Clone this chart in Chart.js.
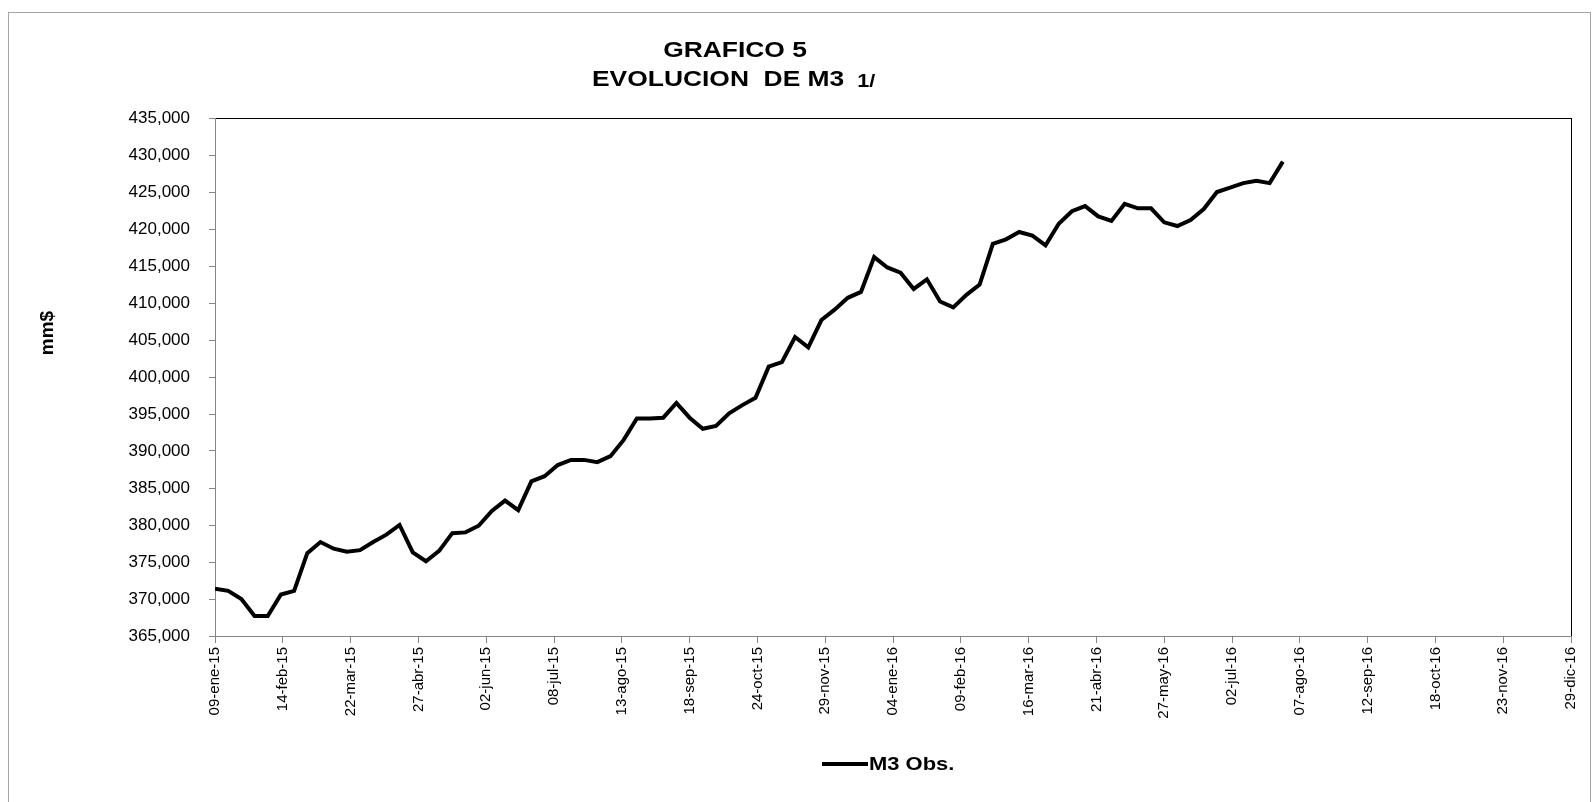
<!DOCTYPE html>
<html>
<head>
<meta charset="utf-8">
<script src="https://cdn.jsdelivr.net/npm/chart.js@4.4.1/dist/chart.umd.min.js"></script>
<style>
  body { margin: 0; background: #fff; }
  canvas { display: block; }
</style>
</head>
<body>
<canvas id="grafico" width="1593" height="802"></canvas>
<script>
// Data
const inicio = '09-ene-15';   // first weekly observation, x = 0 days
const diasPorSemana = 7;
const m3Obs = [
  371400, 371100, 370000, 367700, 367700, 370600, 371100, 376200, 377700, 376800,
  376400, 376600, 377700, 378700, 380000, 376300, 375100, 376500, 378900, 379000,
  379900, 381900, 383300, 382000, 385900, 386600, 388100, 388800, 388800, 388500,
  389300, 391500, 394400, 394400, 394500, 396500, 394500, 393000, 393400, 395100,
  396200, 397200, 401400, 402000, 405400, 404000, 407700, 409100, 410700, 411500,
  416200, 414800, 414100, 411900, 413200, 410200, 409400, 411100, 412500, 418000,
  418600, 419600, 419100, 417800, 420700, 422400, 423100, 421700, 421100, 423400,
  422800, 422800, 420900, 420400, 421200, 422700, 425000, 425600, 426200, 426500,
  426200, 429100
];
const tickLabels = [
  '09-ene-15', '14-feb-15', '22-mar-15', '27-abr-15', '02-jun-15', '08-jul-15',
  '13-ago-15', '18-sep-15', '24-oct-15', '29-nov-15', '04-ene-16', '09-feb-16',
  '16-mar-16', '21-abr-16', '27-may-16', '02-jul-16', '07-ago-16', '12-sep-16',
  '18-oct-16', '23-nov-16', '29-dic-16'
];
const pasoDias = 36;
const yMin = 365000, yMax = 435000, yPaso = 5000;

const puntos = m3Obs.map((v, i) => ({ x: i * diasPorSemana, y: v }));

const FONT = '"Liberation Sans", Arial, sans-serif';
const GRIS = '#868686';

// draws text a bit wider, like the original picture
function texto(ctx, t, x, y, font, align, estira) {
  ctx.save();
  ctx.font = font;
  ctx.fillStyle = '#000';
  ctx.textBaseline = 'middle';
  const w = ctx.measureText(t).width * estira;
  let x0 = x;
  if (align === 'center') x0 = x - w / 2;
  if (align === 'right') x0 = x - w;
  ctx.translate(x0, y);
  ctx.scale(estira, 1);
  ctx.textAlign = 'left';
  ctx.fillText(t, 0, 0);
  ctx.restore();
  return w;
}

const extras = {
  id: 'extras',
  beforeDraw(chart) {
    const ctx = chart.ctx, a = chart.chartArea;
    ctx.save();
    ctx.fillStyle = '#fff';
    ctx.fillRect(0, 0, chart.width, chart.height);
    // outer frame
    ctx.strokeStyle = '#a6a6a6';
    ctx.lineWidth = 1;
    ctx.strokeRect(8.5, 12.5, 1582, 790);
    // plot area border
    ctx.strokeStyle = '#000';
    ctx.strokeRect(Math.round(a.left) + 0.5, Math.round(a.top) + 0.5,
      Math.round(a.right - a.left), Math.round(a.bottom - a.top));
    ctx.restore();
  },
  afterDraw(chart) {
    const ctx = chart.ctx;
    // title
    texto(ctx, 'GRAFICO 5', 735, 51, 'bold 22px ' + FONT, 'center', 1.2);
    const w = texto(ctx, 'EVOLUCION  DE M3', 592, 80, 'bold 22px ' + FONT, 'left', 1.2);
    texto(ctx, '1/', 592 + w + 13, 82, 'bold 18px ' + FONT, 'left', 1.2);
    // y axis title
    ctx.save();
    ctx.translate(48, 333);
    ctx.rotate(-Math.PI / 2);
    ctx.font = 'bold 19px ' + FONT;
    ctx.fillStyle = '#000';
    ctx.textAlign = 'center';
    ctx.textBaseline = 'middle';
    ctx.fillText('mm$', 0, 0);
    ctx.restore();
    // legend
    ctx.save();
    ctx.strokeStyle = '#000';
    ctx.lineWidth = 4;
    ctx.beginPath();
    ctx.moveTo(822, 764);
    ctx.lineTo(868, 764);
    ctx.stroke();
    ctx.restore();
    texto(ctx, 'M3 Obs.', 869, 765, 'bold 18px ' + FONT, 'left', 1.22);
  }
};

Chart.defaults.font.family = FONT;
Chart.defaults.color = '#000';

new Chart(document.getElementById('grafico'), {
  type: 'line',
  data: {
    datasets: [{
      label: 'M3 Obs.',
      data: puntos,
      borderColor: '#000',
      borderWidth: 4,
      pointRadius: 0,
      tension: 0,
      fill: false
    }]
  },
  options: {
    responsive: false,
    animation: false,
    devicePixelRatio: 1,
    layout: { padding: { left: 0, top: 118, right: 21, bottom: 66 } },
    plugins: {
      legend: { display: false },
      title: { display: false },
      tooltip: { enabled: false }
    },
    scales: {
      x: {
        type: 'linear',
        min: 0,
        max: pasoDias * (tickLabels.length - 1),
        afterFit(s) { s.height = 100; },
        afterBuildTicks(s) {
          s.ticks = tickLabels.map((_, i) => ({ value: i * pasoDias }));
        },
        grid: { drawOnChartArea: false, color: GRIS, tickLength: 7 },
        border: { color: GRIS, width: 1 },
        ticks: {
          autoSkip: false,
          maxRotation: 90,
          minRotation: 90,
          padding: 4,
          font: { size: 15 },
          callback: v => tickLabels[Math.round(v / pasoDias)]
        }
      },
      y: {
        min: yMin,
        max: yMax,
        afterFit(s) { s.width = 215; },
        grid: { drawOnChartArea: false, color: GRIS, tickLength: 6 },
        border: { color: GRIS, width: 1 },
        ticks: {
          stepSize: yPaso,
          padding: 19,
          font: { size: 17 },
          callback: v => v.toLocaleString('en-US')
        }
      }
    }
  },
  plugins: [extras]
});
</script>
</body>
</html>
